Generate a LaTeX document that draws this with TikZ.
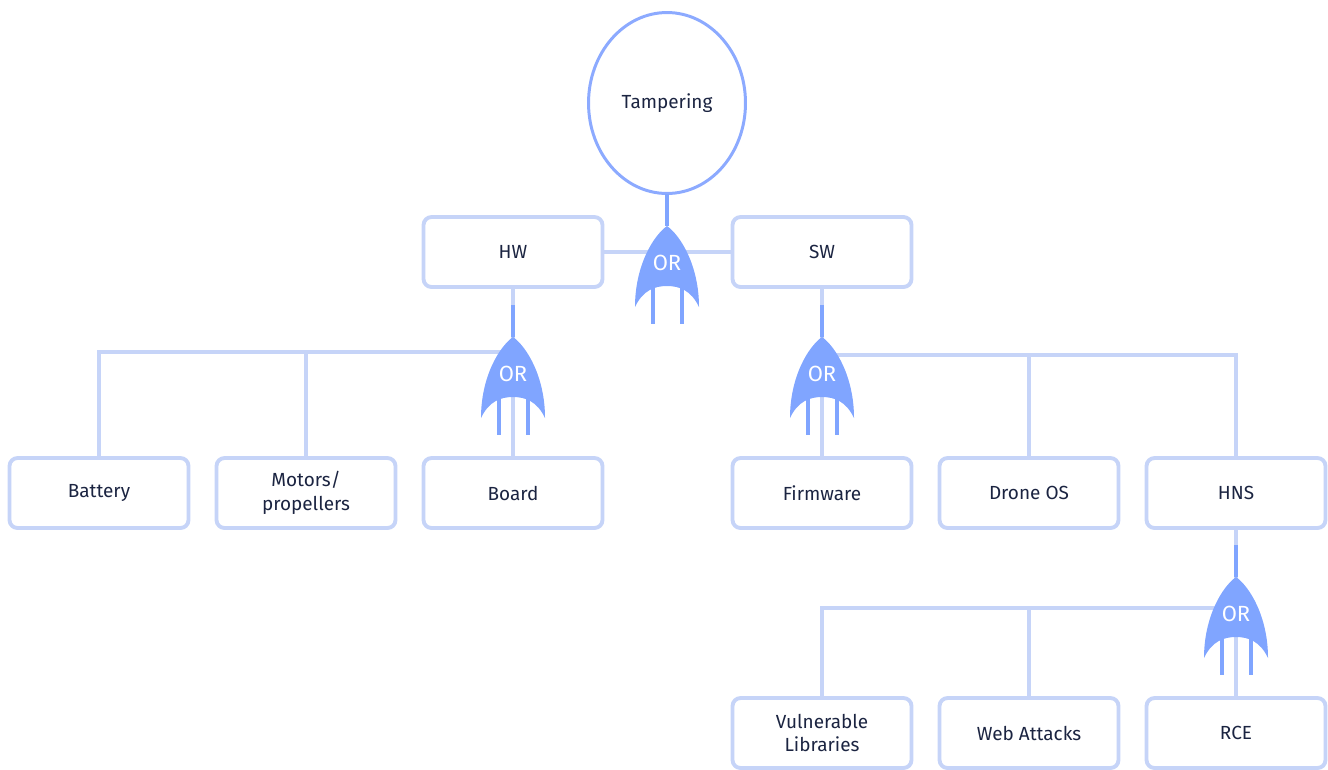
\documentclass[tikz,border=0pt]{standalone}
\usepackage{xcolor}
\usepackage{fontspec}
\setmainfont{Fira Sans}
\usepackage{tikz}
\usetikzlibrary{shapes,positioning,calc}

\definecolor{linkblue}{HTML}{C6D4F8}
\definecolor{gateblue}{HTML}{80A5FF}
\definecolor{rootblue}{HTML}{8CAAFF}
\definecolor{inkblue}{HTML}{1B2441}

\tikzset{
    box/.style={draw=linkblue, line width=2.2pt, rounded corners=0.16cm, fill=white,
        minimum width=3.58cm, minimum height=1.4cm, align=center, text=inkblue,
        font=\fontsize{10.8}{13.6}\selectfont},
    link/.style={draw=linkblue, line width=2.3pt},
    orgate/.pic={
        \draw[gateblue, line width=2.4pt] (0,-32) -- (0,0);
        \draw[gateblue, line width=2.4pt] (-14,60) -- (-14,98) (15,60) -- (15,98);
        \fill[gateblue] (0,0) .. controls (14,10) and (32,40) .. (32,81)
            .. controls (24,64) and (12,60) .. (0,60)
            .. controls (-12,60) and (-24,64) .. (-32,81)
            .. controls (-32,40) and (-14,10) .. (0,0) -- cycle;
        \node[text=white, font=\fontsize{12.5}{14}\selectfont] (-lbl) at (0,37) {OR};
    }
}

\begin{document}
\begin{tikzpicture}[x=0.02cm, y=-0.02cm]
    \useasboundingbox (0,0) rectangle (1328,769);

    % root
    \node[ellipse, draw=rootblue, line width=1.7pt, minimum width=3.14cm, minimum height=3.62cm,
        text=inkblue, font=\fontsize{10.8}{13.6}\selectfont] (tamp) at (667,103) {Tampering};
    \node[box] (hw) at (513,252) {HW};
    \node[box] (sw) at (822,252) {SW};

    % leaves
    \node[box] (battery) at (99,493) {Battery};
    \node[box] (motors) at (306,493) {Motors/\\propellers};
    \node[box] (board) at (513,493) {Board};
    \node[box] (firmware) at (822,493) {Firmware};
    \node[box] (droneos) at (1029,493) {Drone OS};
    \node[box] (hns) at (1236,493) {HNS};
    \node[box] (vuln) at (822,733) {Vulnerable\\Libraries};
    \node[box] (web) at (1029,733) {Web Attacks};
    \node[box] (rce) at (1236,733) {RCE};

    \coordinate (g0) at (667,226);
    \coordinate (g1) at (513,337);
    \coordinate (g2) at (822,337);
    \coordinate (g3) at (1236,577);
    \coordinate (h1) at (513,352);
    \coordinate (h2) at (822,355);
    \coordinate (h3) at (1236,608);

    % links
    \draw[link] (hw.east) -- (sw.west);
    \draw[link] (hw.south) -- (board.north);
    \draw[link] (battery.north) |- (h1);
    \draw[link] (motors.north) -- (motors.north |- h1);
    \draw[link] (sw.south) -- (firmware.north);
    \draw[link] (h2) -| (hns.north);
    \draw[link] (droneos.north) -- (droneos.north |- h2);
    \draw[link] (hns.south) -- (rce.north);
    \draw[link] (h3) -| (vuln.north);
    \draw[link] (web.north) -- (web.north |- h3);

    % gates
    \pic (gate0) at (g0) {orgate};
    \pic (gate1) at (g1) {orgate};
    \pic (gate2) at (g2) {orgate};
    \pic (gate3) at (g3) {orgate};
\end{tikzpicture}
\end{document}
